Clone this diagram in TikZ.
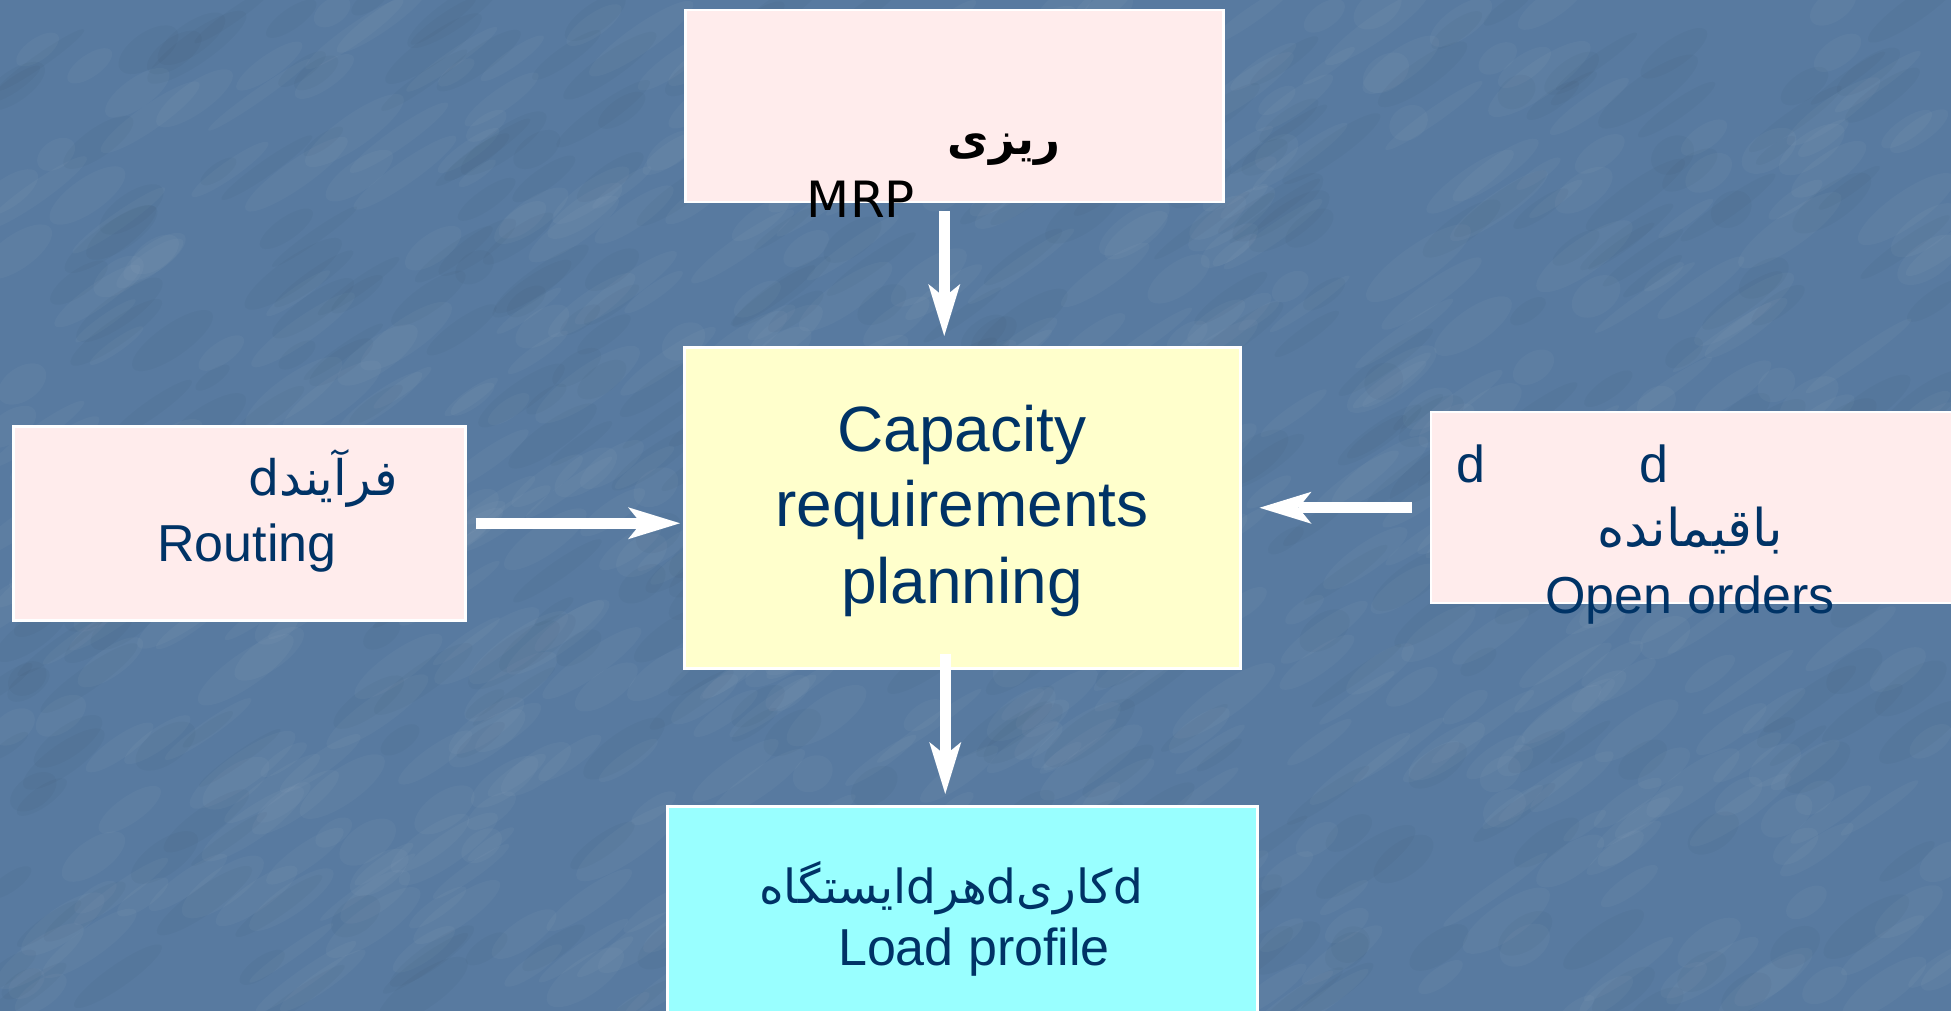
\documentclass[tikz,border=0pt]{standalone}
\usepackage{fontspec}
\setmainfont{Liberation Sans}
\newfontfamily\arabicfont[Script=Arabic]{DejaVu Sans}
\newfontfamily\dejavu{DejaVu Sans}
\TeXXeTstate=1
\usetikzlibrary{arrows.meta}

\definecolor{slate}{RGB}{88,122,160}
\definecolor{navy}{RGB}{0,51,102}
\definecolor{blush}{RGB}{255,236,236}
\definecolor{cream}{RGB}{255,255,204}
\definecolor{aqua}{RGB}{153,255,255}

\begin{document}
\begin{tikzpicture}[x=1pt,y=-1pt,
  box/.style={draw=white, line width=2.5pt, inner sep=0pt, anchor=north west},
  flow/.style={draw=white, line width=11pt,
    -{Stealth[length=52pt,width=32pt,inset=13pt,line width=0pt]}},
  lat/.style={text=navy, inner sep=0pt, anchor=base,
    font=\fontsize{52}{60}\selectfont},
  big/.style={text=navy, inner sep=0pt, anchor=base,
    font=\fontsize{64}{76}\selectfont},
  fa/.style={text=navy, inner sep=0pt, anchor=base,
    font=\arabicfont\fontsize{#1}{#1}\selectfont},
]
\useasboundingbox (0,0) rectangle (1951,1011);
\clip (0,0) rectangle (1951,1011);

% mottled blue backdrop
\fill[slate] (0,0) rectangle (1951,1011);
\pgfmathsetseed{7}
\foreach \i in {1,...,600}{
  \pgfmathsetmacro\xx{rnd*1951}
  \pgfmathsetmacro\yy{rnd*1011}
  \pgfmathsetmacro\ll{20+rnd*45}
  \pgfmathsetmacro\hh{6+rnd*12}
  \fill[white, opacity=0.03, rotate around={35:(\xx,\yy)}]
    (\xx,\yy) ellipse [x radius=\ll, y radius=\hh];
}
\foreach \i in {1,...,400}{
  \pgfmathsetmacro\xx{rnd*1951}
  \pgfmathsetmacro\yy{rnd*1011}
  \pgfmathsetmacro\ll{20+rnd*40}
  \pgfmathsetmacro\hh{6+rnd*12}
  \fill[black, opacity=0.025, rotate around={35:(\xx,\yy)}]
    (\xx,\yy) ellipse [x radius=\ll, y radius=\hh];
}

% boxes
\node[box, fill=blush, minimum width=538pt, minimum height=192pt] (mrp) at (684,9) {};
\node[box, fill=cream, minimum width=556pt, minimum height=321pt] (crp) at (683,346) {};
\node[box, fill=blush, minimum width=452pt, minimum height=194pt] (rout) at (12,425) {};
\node[box, fill=blush, minimum width=560pt, minimum height=191pt] (open) at (1429.5,410.5) {};
\node[box, fill=aqua, minimum width=590pt, minimum height=250pt] (load) at (666,805) {};

% texts
\node[inner sep=0pt, anchor=base, text=black,
  font=\arabicfont\bfseries\fontsize{45}{54}\selectfont] (mrpfa) at (1004,155) {\beginR ریزی\endR};
\node[inner sep=0pt, anchor=base, text=black,
  font=\dejavu\fontsize{50}{58}\selectfont] (mrptxt) at (861,218) {MRP};

\node[big] (crp1) at (962,451.7) {Capacity};
\node[big] (crp2) at (962,526.7) {requirements};
\node[big] (crp3) at (962,603.3) {planning};

\node[fa=49] (routfa) at (323,495) {\beginR فرآیندd\endR};
\node[lat] (routen) at (247,561.7) {Routing};

\node[lat] (opend1) at (1471,482.7) {d};
\node[lat] (opend2) at (1654,482.7) {d};
\node[fa=52] (openfa) at (1690,546.7) {\beginR باقیمانده\endR};
\node[lat] (openen) at (1690,613.3) {Open orders};

% each word set as its own box so the pieces stand in this order
\node[fa=47] (loadfa) at (951,903)
  {\hbox{ایستگاه}\hbox{d}\hbox{هر}\hbox{d}\hbox{کاری}\hbox{d}};
\node[lat] (loaden) at (974,965) {Load profile};

% flows into and out of the planning step
\draw[flow] ([shift={(-10,8)}]mrp.south) -- ([shift={(-18,-10)}]crp.north);
\draw[flow] ([shift={(9,0)}]rout.east) -- ([shift={(-3,15.5)}]crp.west);
\draw[flow] ([shift={(-17.5,0.5)}]open.west) -- ([shift={(18,0)}]crp.east);
\draw[flow] ([shift={(-17,-16)}]crp.south) -- ([shift={(-17,-11)}]load.north);
\end{tikzpicture}
\end{document}
